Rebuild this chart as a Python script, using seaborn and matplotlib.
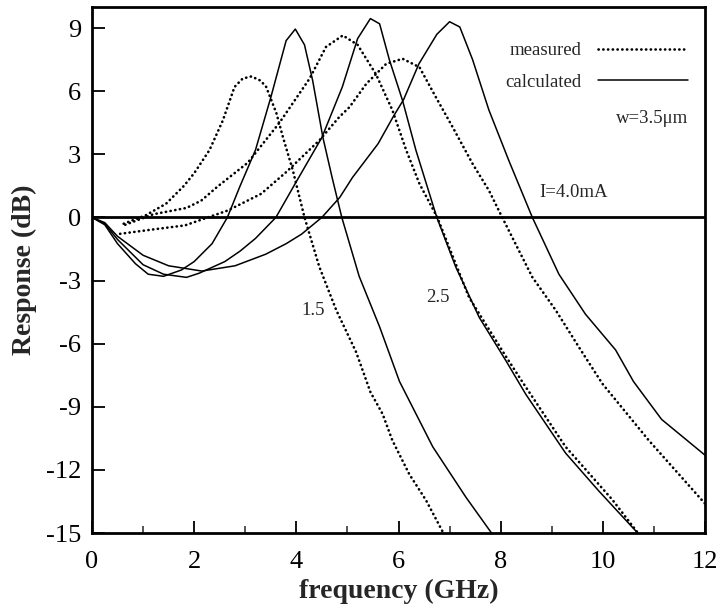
import numpy as np
import pandas as pd
import matplotlib
matplotlib.use("Agg")
import matplotlib.pyplot as plt
import seaborn as sns
from matplotlib.lines import Line2D

# ---------------- data ----------------
# calculated curves (solid)
calc_15_x = [0, 0.25, 0.5, 0.85, 1.1, 1.4, 1.75, 2.0, 2.35, 2.65, 2.9, 3.2, 3.5, 3.8, 3.98, 4.16, 4.32, 4.52, 4.7, 4.89, 5.23, 5.63, 6.02, 6.67, 7.32, 7.85]
calc_15_y = [0, -0.35, -1.25, -2.2, -2.7, -2.8, -2.5, -2.1, -1.25, 0, 1.5, 3.2, 5.7, 8.4, 8.95, 8.2, 6.5, 3.8, 1.9, 0, -2.8, -5.2, -7.8, -10.9, -13.3, -15.1]

calc_25_x = [0, 0.25, 0.5, 1.0, 1.4, 1.85, 2.1, 2.6, 2.9, 3.2, 3.6, 4.0, 4.5, 4.9, 5.2, 5.45, 5.63, 5.82, 6.08, 6.34, 6.75, 7.12, 7.58, 8.1, 8.49, 9.27, 9.92, 10.72]
calc_25_y = [0, -0.3, -1.05, -2.25, -2.7, -2.85, -2.65, -2.1, -1.6, -1.0, 0, 1.7, 3.8, 6.2, 8.5, 9.45, 9.2, 7.5, 5.55, 3.2, 0, -2.35, -4.75, -6.8, -8.4, -11.2, -13.0, -15.1]

calc_40_x = [0, 0.25, 0.5, 1.0, 1.5, 2.15, 2.8, 3.4, 3.8, 4.1, 4.5, 4.85, 5.1, 5.6, 5.9, 6.1, 6.4, 6.75, 7.0, 7.2, 7.45, 7.77, 8.16, 8.62, 9.14, 9.66, 10.25, 10.6, 11.15, 12.0]
calc_40_y = [0, -0.25, -0.9, -1.8, -2.3, -2.55, -2.3, -1.75, -1.25, -0.8, 0, 0.95, 1.9, 3.5, 4.8, 5.6, 7.3, 8.7, 9.3, 9.05, 7.5, 5.1, 2.7, 0, -2.7, -4.6, -6.3, -7.8, -9.6, -11.3]

# measured curves (dotted)
meas_15_x = [0.62, 1.05, 1.45, 1.8, 2.0, 2.3, 2.56, 2.79, 2.95, 3.12, 3.3, 3.41, 3.61, 3.74, 3.93, 4.16, 4.45, 4.78, 5.17, 5.45, 5.69, 5.88, 6.21, 6.54, 6.9]
meas_15_y = [-0.3, 0.1, 0.65, 1.5, 2.1, 3.2, 4.6, 6.2, 6.6, 6.7, 6.5, 6.2, 4.95, 3.8, 2.25, 0, -2.35, -4.4, -6.4, -8.3, -9.35, -10.6, -12.2, -13.45, -15.1]

meas_25_x = [0.65, 1.2, 1.85, 2.14, 2.45, 3.05, 3.67, 4.26, 4.58, 4.91, 5.2, 5.56, 5.88, 6.15, 6.41, 6.76, 7.38, 8.1, 8.42, 9.27, 10.18, 10.72]
meas_25_y = [-0.35, 0.15, 0.45, 0.8, 1.45, 2.6, 4.5, 6.6, 8.1, 8.65, 8.2, 6.8, 5.1, 3.2, 1.6, 0, -3.8, -6.6, -7.8, -10.9, -13.4, -15.1]

meas_40_x = [0.55, 1.17, 1.82, 2.66, 3.31, 3.8, 4.45, 4.84, 5.04, 5.37, 5.76, 6.08, 6.41, 6.73, 7.06, 7.45, 7.77, 8.03, 8.42, 8.62, 9.08, 9.53, 9.99, 10.9, 11.94, 12.0]
meas_40_y = [-0.78, -0.58, -0.38, 0.33, 1.12, 2.15, 3.66, 4.77, 5.24, 6.35, 7.3, 7.54, 7.14, 5.72, 4.29, 2.55, 1.28, 0, -1.88, -2.84, -4.42, -6.16, -7.9, -10.6, -13.44, -13.6]

x_ticks = [0, 2, 4, 6, 8, 10, 12]
y_ticks = [-15, -12, -9, -6, -3, 0, 3, 6, 9]

# ---------------- style ----------------
sns.set_style("ticks")
plt.rcParams["font.family"] = ["Liberation Serif", "DejaVu Serif"]
plt.rcParams["axes.unicode_minus"] = False

fig = plt.figure(figsize=(7.18, 6.14), dpi=100)
ax = fig.add_axes([92 / 718, 1 - 533 / 614, (705 - 92) / 718, (533 - 7) / 614])

solid_kw = dict(color="black", linewidth=1.1)
dot_kw = dict(color="black", linewidth=1.9, linestyle=(0, (0.1, 1.7)),
              dash_capstyle="round")

for xs, ys in [(calc_15_x, calc_15_y), (calc_25_x, calc_25_y), (calc_40_x, calc_40_y)]:
    df = pd.DataFrame({"f": xs, "r": ys})
    sns.lineplot(data=df, x="f", y="r", ax=ax, sort=False, estimator=None, **solid_kw)

for xs, ys in [(meas_15_x, meas_15_y), (meas_25_x, meas_25_y), (meas_40_x, meas_40_y)]:
    df = pd.DataFrame({"f": xs, "r": ys})
    sns.lineplot(data=df, x="f", y="r", ax=ax, sort=False, estimator=None, **dot_kw)

ax.axhline(0, color="black", linewidth=2.0, zorder=3)

ax.set_xlim(0, 12)
ax.set_ylim(-15, 10)
ax.set_xticks(x_ticks)
ax.set_yticks(y_ticks)
ax.set_xticks([1, 3, 5, 7, 9, 11], minor=True)
ax.tick_params(axis="both", which="major", direction="in", length=9, width=1.3,
               labelsize=19, colors="black")
ax.tick_params(axis="x", which="major", pad=13)
ax.tick_params(axis="y", which="major", pad=8)
ax.tick_params(axis="x", which="minor", direction="in", length=5, width=1.1)
for s in ax.spines.values():
    s.set_linewidth(2.0)
    s.set_color("black")
    s.set_visible(True)

ax.set_xlabel("frequency (GHz)", fontsize=20, fontweight="bold", labelpad=4)
ax.set_ylabel("Response (dB)", fontsize=20, fontweight="bold", labelpad=6)

# legend (text left of the line sample)
handles = [Line2D([], [], **dot_kw), Line2D([], [], **solid_kw)]
leg = ax.legend(handles, ["measured", "calculated"], markerfirst=False, frameon=False,
                loc="upper right", bbox_to_anchor=(1.0, 0.965), fontsize=13.5,
                handlelength=4.8, handletextpad=0.9, labelspacing=0.75)

ax.text(11.68, 4.7, "w=3.5μm", fontsize=13.5, ha="right", va="center")
ax.text(8.75, 1.19, "I=4.0mA", fontsize=13.5, ha="left", va="center")
ax.text(4.32, -4.42, "1.5", fontsize=13.5, ha="center", va="center")
ax.text(6.77, -3.79, "2.5", fontsize=13.5, ha="center", va="center")

fig.savefig("out.png", dpi=100)
